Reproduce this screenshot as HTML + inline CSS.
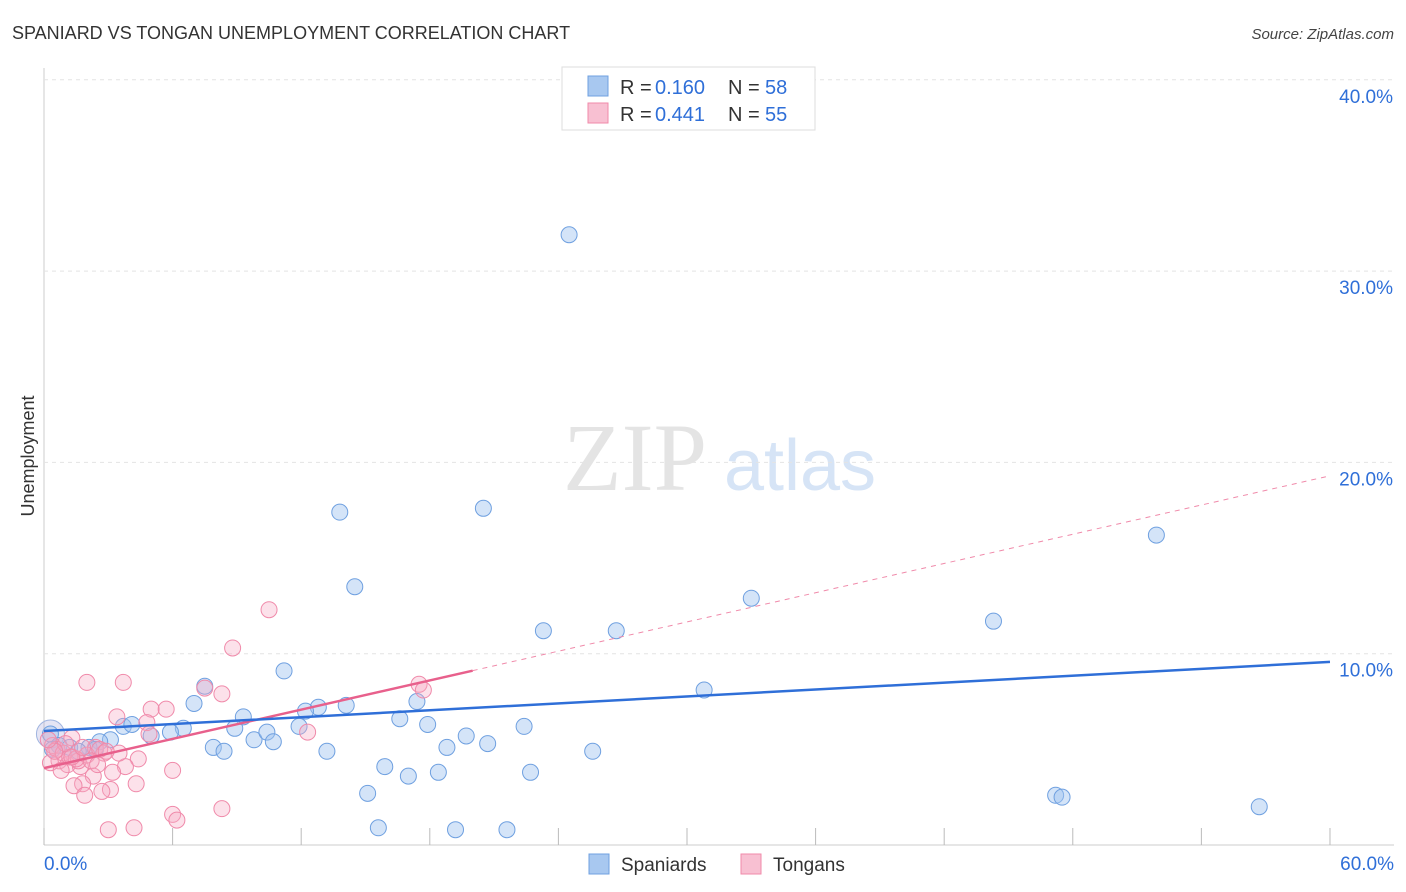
<!DOCTYPE html>
<html><head><meta charset="utf-8"><style>
body{margin:0;background:#fff;font-family:"Liberation Sans",sans-serif;}
#wrap{position:relative;width:1406px;height:892px;overflow:hidden}
</style></head><body>
<div id="wrap">
<svg id="svg" width="1406" height="892" xmlns="http://www.w3.org/2000/svg">
<text x="12" y="39" font-size="18" fill="#333">SPANIARD VS TONGAN UNEMPLOYMENT CORRELATION CHART</text>
<text x="1394" y="39" font-size="15" fill="#444" font-style="italic" text-anchor="end">Source: ZipAtlas.com</text>
<text x="34" y="456" font-size="18" fill="#333" text-anchor="middle" transform="rotate(-90 34 456)">Unemployment</text>
<g><text x="635" y="490" font-size="96" fill="#e4e4e4" font-family="Liberation Serif,serif" text-anchor="middle">ZIP</text><text x="800" y="490" font-size="72" fill="#d6e4f6" text-anchor="middle">atlas</text></g>
<g id="grid"></g><g id="marks"></g>
<g>
<rect x="562" y="67" width="253" height="63" fill="#fff" stroke="#ddd"/>
<rect x="588" y="76" width="20" height="20" fill="#a8c8f0" stroke="#6fa0e0"/>
<rect x="588" y="103" width="20" height="20" fill="#f8c0d2" stroke="#f08aaa"/>
<g font-size="20" fill="#333">
<text x="620" y="94">R =</text><text x="655" y="94" fill="#2f6fd8">0.160</text><text x="728" y="94">N =</text><text x="765" y="94" fill="#2f6fd8">58</text>
<text x="620" y="121">R =</text><text x="655" y="121" fill="#2f6fd8">0.441</text><text x="728" y="121">N =</text><text x="765" y="121" fill="#2f6fd8">55</text>
</g>
</g>
<g>
<rect x="589" y="854" width="20" height="20" fill="#a8c8f0" stroke="#6fa0e0"/>
<text x="621" y="871" font-size="19" fill="#333">Spaniards</text>
<rect x="741" y="854" width="20" height="20" fill="#f8c0d2" stroke="#f08aaa"/>
<text x="773" y="871" font-size="19" fill="#333">Tongans</text>
</g>
</svg></div>
<script>
const xTicks=[0,6,12,18,24,30,36,42,48,54,60];
const yTicks=[10,20,30,40];
const blueX=[24.5,13.8,20.5,14.5,51.9,33.0,44.3,23.3,26.7,11.2,30.8,7.5,7.0,9.3,12.8,14.1,12.2,17.4,16.6,17.9,22.4,11.9,8.9,6.5,5.9,5.0,3.7,4.1,3.1,2.6,9.8,10.4,10.7,7.9,8.4,13.2,19.7,20.7,18.8,25.6,15.9,17.0,18.4,22.7,15.1,47.2,47.5,56.7,15.6,19.2,21.6,0.3,0.7,1.2,2.1,1.6,0.4,2.4];
const blueY=[31.9,17.4,17.6,13.5,16.2,12.9,11.7,11.2,11.2,9.1,8.1,8.3,7.4,6.7,7.2,7.3,7.0,7.5,6.6,6.3,6.2,6.2,6.1,6.1,5.9,5.7,6.2,6.3,5.5,5.4,5.5,5.9,5.4,5.1,4.9,4.9,5.7,5.3,5.1,4.9,4.1,3.6,3.8,3.8,2.7,2.6,2.5,2.0,0.9,0.8,0.8,5.8,5.2,5.1,5.1,4.9,5.0,5.0];
const pinkX=[10.5,8.8,2.0,3.7,7.5,8.3,17.5,17.7,5.0,5.7,3.4,4.8,12.3,4.4,1.3,2.4,2.8,0.7,1.1,1.7,3.8,6.0,3.2,2.3,1.8,1.4,4.3,3.1,1.9,2.7,6.0,6.2,8.3,3.0,4.2,0.4,0.6,0.9,1.2,1.6,0.3,2.0,2.6,1.0,0.5,1.5,2.2,3.5,0.8,1.3,4.9,2.9,1.8,0.2,2.5];
const pinkY=[12.3,10.3,8.5,8.5,8.2,7.9,8.4,8.1,7.1,7.1,6.7,6.4,5.9,4.5,5.6,5.1,4.8,4.4,4.2,4.1,4.1,3.9,3.8,3.6,3.2,3.1,3.2,2.9,2.6,2.8,1.6,1.3,1.9,0.8,0.9,5.2,5.0,4.8,4.6,4.4,4.3,4.7,5.0,5.3,4.9,4.5,4.4,4.8,3.9,4.6,5.8,4.9,5.1,5.5,4.2];
const blueTrend=[5.96,9.57];
const pinkTrend=[4.02,19.3];
const pinkSolidEnd=20;
const X=v=>44+v*21.433, Y=v=>845-v*19.13;
const NS='http://www.w3.org/2000/svg';
function mk(t,a,p){const e=document.createElementNS(NS,t);for(const k in a)e.setAttribute(k,a[k]);p.appendChild(e);return e;}
const g=document.getElementById('grid'), m=document.getElementById('marks');
mk('line',{x1:44,y1:68,x2:44,y2:845,stroke:'#ccc'},g);
mk('line',{x1:44,y1:845,x2:1394,y2:845,stroke:'#ccc'},g);
yTicks.forEach(v=>{
 const l=mk('line',{x1:44,y1:Y(v),x2:1394,y2:Y(v),stroke:'#e4e4e4','stroke-dasharray':'4,4'},g);
 
 
 const t=mk('text',{x:1393,y:Y(v)+23,'font-size':19,fill:'#2f6fd8','text-anchor':'end'},g);t.textContent=v.toFixed(1)+'%';
 
 
});
xTicks.forEach(v=>{
 const l=mk('line',{x1:X(v),y1:828,x2:X(v),y2:845,stroke:'#bbb'},g);
 
 
});
[[0,'start',44],[60,'end',1394]].forEach(([v,a,x])=>{const t=mk('text',{x:x,y:870,'font-size':19,fill:'#2f6fd8','text-anchor':a},g);t.textContent=v.toFixed(1)+'%';
 
 });
mk('circle',{cx:X(0.3),cy:Y(5.8),r:14,fill:'rgba(170,170,220,0.3)',stroke:'#a0b5e0'},m);
blueX.forEach((x,i)=>{const c=mk('circle',{cx:X(x),cy:Y(blueY[i]),r:8,fill:'rgba(160,195,240,0.45)',stroke:'#6fa0e0','stroke-width':1},m);
 
 });
pinkX.forEach((x,i)=>{const c=mk('circle',{cx:X(x),cy:Y(pinkY[i]),r:8,fill:'rgba(245,170,195,0.35)',stroke:'#f08aaa','stroke-width':1},m);
 
 });
const pe=pinkTrend[0]+(pinkTrend[1]-pinkTrend[0])*pinkSolidEnd/60;
let l=mk('line',{x1:X(pinkSolidEnd),y1:Y(pe),x2:X(60),y2:Y(pinkTrend[1]),stroke:'#f08aaa','stroke-dasharray':'5,5','stroke-width':1},m);


l=mk('line',{x1:X(0),y1:Y(pinkTrend[0]),x2:X(pinkSolidEnd),y2:Y(pe),stroke:'#e8608c','stroke-width':2.5},m);


l=mk('line',{x1:X(0),y1:Y(blueTrend[0]),x2:X(60),y2:Y(blueTrend[1]),stroke:'#2f6fd8','stroke-width':2.5},m);


</script>
</body></html>
